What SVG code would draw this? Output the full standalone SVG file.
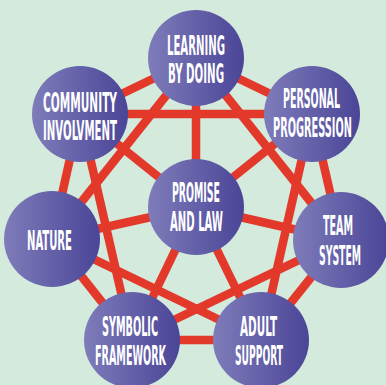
<svg xmlns="http://www.w3.org/2000/svg" width="386" height="385" viewBox="0 0 386 385">
<style>
.bg{fill:#d3eadd}
.e{stroke:#e3392b;stroke-width:8.5;fill:none}
.n circle{fill:url(#cg)}
.n text{fill:#fff;font-family:"DejaVu Sans Condensed","DejaVu Sans",sans-serif;font-weight:bold;font-size:12px;text-anchor:middle}
</style>
<defs>
<linearGradient id="cg" x1="0" y1="0" x2="1" y2="0">
<stop offset="0" stop-color="#7f7cba"/>
<stop offset="1" stop-color="#4a4597"/>
</linearGradient>
<linearGradient id="gCP" gradientUnits="userSpaceOnUse" x1="80" y1="114" x2="312" y2="114">
<stop offset="0" stop-color="#e3392b"/><stop offset="0.33" stop-color="#e3392b"/><stop offset="0.335" stop-color="#f0805c"/><stop offset="0.46" stop-color="#e3392b"/><stop offset="0.52" stop-color="#e3392b"/><stop offset="0.525" stop-color="#f0805c"/><stop offset="0.8" stop-color="#e3392b"/><stop offset="1" stop-color="#e3392b"/>
</linearGradient>
<linearGradient id="gLN" gradientUnits="userSpaceOnUse" x1="196" y1="58" x2="52" y2="239">
<stop offset="0" stop-color="#e3392b"/><stop offset="0.45" stop-color="#e3392b"/><stop offset="0.46" stop-color="#f0805c"/><stop offset="0.67" stop-color="#e3392b"/><stop offset="1" stop-color="#e3392b"/>
</linearGradient>
<linearGradient id="gLT" gradientUnits="userSpaceOnUse" x1="196" y1="58" x2="341" y2="240">
<stop offset="0" stop-color="#e3392b"/><stop offset="0.67" stop-color="#e3392b"/><stop offset="0.68" stop-color="#f0805c"/><stop offset="0.86" stop-color="#e3392b"/><stop offset="1" stop-color="#e3392b"/>
</linearGradient>
<linearGradient id="gPA" gradientUnits="userSpaceOnUse" x1="312" y1="114" x2="261" y2="340">
<stop offset="0" stop-color="#e3392b"/><stop offset="0.45" stop-color="#e3392b"/><stop offset="0.46" stop-color="#f0805c"/><stop offset="0.62" stop-color="#e3392b"/><stop offset="1" stop-color="#e3392b"/>
</linearGradient>
<linearGradient id="gTS" gradientUnits="userSpaceOnUse" x1="341" y1="240" x2="132" y2="340">
<stop offset="0" stop-color="#e3392b"/><stop offset="0.2" stop-color="#f0805c"/><stop offset="0.36" stop-color="#e3392b"/><stop offset="0.54" stop-color="#e3392b"/><stop offset="0.55" stop-color="#f0805c"/><stop offset="0.74" stop-color="#e3392b"/><stop offset="1" stop-color="#e3392b"/>
</linearGradient>
<linearGradient id="gNA" gradientUnits="userSpaceOnUse" x1="52" y1="239" x2="261" y2="340">
<stop offset="0" stop-color="#e3392b"/><stop offset="0.49" stop-color="#e3392b"/><stop offset="0.5" stop-color="#f0805c"/><stop offset="0.68" stop-color="#e3392b"/><stop offset="1" stop-color="#e3392b"/>
</linearGradient>
<linearGradient id="gMN" gradientUnits="userSpaceOnUse" x1="196" y1="207" x2="52" y2="239">
<stop offset="0" stop-color="#e3392b"/><stop offset="0.52" stop-color="#e3392b"/><stop offset="0.53" stop-color="#f0805c"/><stop offset="0.72" stop-color="#e3392b"/><stop offset="1" stop-color="#e3392b"/>
</linearGradient>
<linearGradient id="gCS" gradientUnits="userSpaceOnUse" x1="80" y1="114" x2="132" y2="340">
<stop offset="0" stop-color="#e3392b"/><stop offset="0.7" stop-color="#e3392b"/><stop offset="0.71" stop-color="#f0805c"/><stop offset="0.84" stop-color="#e3392b"/><stop offset="1" stop-color="#e3392b"/>
</linearGradient>
<linearGradient id="gMS" gradientUnits="userSpaceOnUse" x1="196" y1="207" x2="132" y2="340">
<stop offset="0" stop-color="#e3392b"/><stop offset="0.54" stop-color="#e3392b"/><stop offset="0.55" stop-color="#f0805c"/><stop offset="0.72" stop-color="#e3392b"/><stop offset="1" stop-color="#e3392b"/>
</linearGradient>
<linearGradient id="gMA" gradientUnits="userSpaceOnUse" x1="196" y1="207" x2="261" y2="340">
<stop offset="0" stop-color="#e3392b"/><stop offset="0.6" stop-color="#e3392b"/><stop offset="0.61" stop-color="#ee6f4e"/><stop offset="0.75" stop-color="#e3392b"/><stop offset="1" stop-color="#e3392b"/>
</linearGradient>
<linearGradient id="gSA" gradientUnits="userSpaceOnUse" x1="132" y1="340" x2="261" y2="340">
<stop offset="0" stop-color="#e3392b"/><stop offset="0.36" stop-color="#e3392b"/><stop offset="0.37" stop-color="#f0805c"/><stop offset="0.62" stop-color="#e3392b"/><stop offset="1" stop-color="#e3392b"/>
</linearGradient>
<linearGradient id="gLP" gradientUnits="userSpaceOnUse" x1="196" y1="58" x2="312" y2="114">
<stop offset="0" stop-color="#e3392b"/><stop offset="0.36" stop-color="#e3392b"/><stop offset="0.37" stop-color="#f0805c"/><stop offset="0.62" stop-color="#e3392b"/><stop offset="1" stop-color="#e3392b"/>
</linearGradient>
</defs>
<rect class="bg" x="0" y="0" width="386" height="385"/>
<g id="connectors">
<line class="e" x1="196" y1="58" x2="80" y2="114"/>
<line class="e" x1="196" y1="58" x2="312" y2="114" stroke="url(#gLP)"/>
<line class="e" x1="196" y1="58" x2="196" y2="207"/>
<line class="e" x1="196" y1="58" x2="52" y2="239" stroke="url(#gLN)"/>
<line class="e" x1="196" y1="58" x2="341" y2="240" stroke="url(#gLT)"/>
<line class="e" x1="80" y1="114" x2="312" y2="114" stroke="url(#gCP)"/>
<line class="e" x1="80" y1="114" x2="196" y2="207"/>
<line class="e" x1="80" y1="114" x2="52" y2="239"/>
<line class="e" x1="80" y1="114" x2="132" y2="340" stroke="url(#gCS)"/>
<line class="e" x1="312" y1="114" x2="196" y2="207"/>
<line class="e" x1="312" y1="114" x2="341" y2="240"/>
<line class="e" x1="312" y1="114" x2="261" y2="340" stroke="url(#gPA)"/>
<line class="e" x1="196" y1="207" x2="52" y2="239" stroke="url(#gMN)"/>
<line class="e" x1="196" y1="207" x2="341" y2="240"/>
<line class="e" x1="196" y1="207" x2="132" y2="340" stroke="url(#gMS)"/>
<line class="e" x1="196" y1="207" x2="261" y2="340" stroke="url(#gMA)"/>
<line class="e" x1="52" y1="239" x2="132" y2="340"/>
<line class="e" x1="52" y1="239" x2="261" y2="340" stroke="url(#gNA)"/>
<line class="e" x1="341" y1="240" x2="132" y2="340" stroke="url(#gTS)"/>
<line class="e" x1="341" y1="240" x2="261" y2="340"/>
<line class="e" x1="132" y1="340" x2="261" y2="340" stroke="url(#gSA)"/>
</g>
<g id="learning" class="n"><circle cx="196" cy="58" r="48"/>
<text transform="translate(196 55) scale(1 2.25)" textLength="58" lengthAdjust="spacingAndGlyphs">LEARNING</text>
<text transform="translate(196 83) scale(1 2.25)" textLength="56" lengthAdjust="spacingAndGlyphs">BY DOING</text></g>
<g id="community" class="n"><circle cx="80" cy="114" r="48"/>
<text transform="translate(80 112) scale(1 2.25)" textLength="74" lengthAdjust="spacingAndGlyphs">COMMUNITY</text>
<text transform="translate(80 140) scale(1 2.25)" textLength="74" lengthAdjust="spacingAndGlyphs">INVOLVMENT</text></g>
<g id="personal" class="n"><circle cx="312" cy="114" r="48"/>
<text transform="translate(311.5 108) scale(1 2.25)" textLength="57" lengthAdjust="spacingAndGlyphs">PERSONAL</text>
<text transform="translate(312.5 137) scale(1 2.25)" textLength="79" lengthAdjust="spacingAndGlyphs">PROGRESSION</text></g>
<g id="promise" class="n"><circle cx="196" cy="207" r="48"/>
<text transform="translate(196 202) scale(1 2.25)" textLength="48" lengthAdjust="spacingAndGlyphs">PROMISE</text>
<text transform="translate(196.5 231) scale(1 2.25)" textLength="53" lengthAdjust="spacingAndGlyphs">AND LAW</text></g>
<g id="nature" class="n"><circle cx="52" cy="239" r="48"/>
<text transform="translate(49.5 250) scale(1 2.25)" textLength="45" lengthAdjust="spacingAndGlyphs">NATURE</text></g>
<g id="team" class="n"><circle cx="341" cy="240" r="48"/>
<text transform="translate(338 235) scale(1 2.25)" textLength="30" lengthAdjust="spacingAndGlyphs">TEAM</text>
<text transform="translate(340 265) scale(1 2.25)" textLength="42" lengthAdjust="spacingAndGlyphs">SYSTEM</text></g>
<g id="symbolic" class="n"><circle cx="132" cy="340" r="48"/>
<text transform="translate(130 336) scale(1 2.25)" textLength="56" lengthAdjust="spacingAndGlyphs">SYMBOLIC</text>
<text transform="translate(130.5 365) scale(1 2.25)" textLength="71" lengthAdjust="spacingAndGlyphs">FRAMEWORK</text></g>
<g id="adult" class="n"><circle cx="261" cy="340" r="48"/>
<text transform="translate(258.5 336) scale(1 2.25)" textLength="37" lengthAdjust="spacingAndGlyphs">ADULT</text>
<text transform="translate(259 365) scale(1 2.25)" textLength="48" lengthAdjust="spacingAndGlyphs">SUPPORT</text></g>
</svg>
